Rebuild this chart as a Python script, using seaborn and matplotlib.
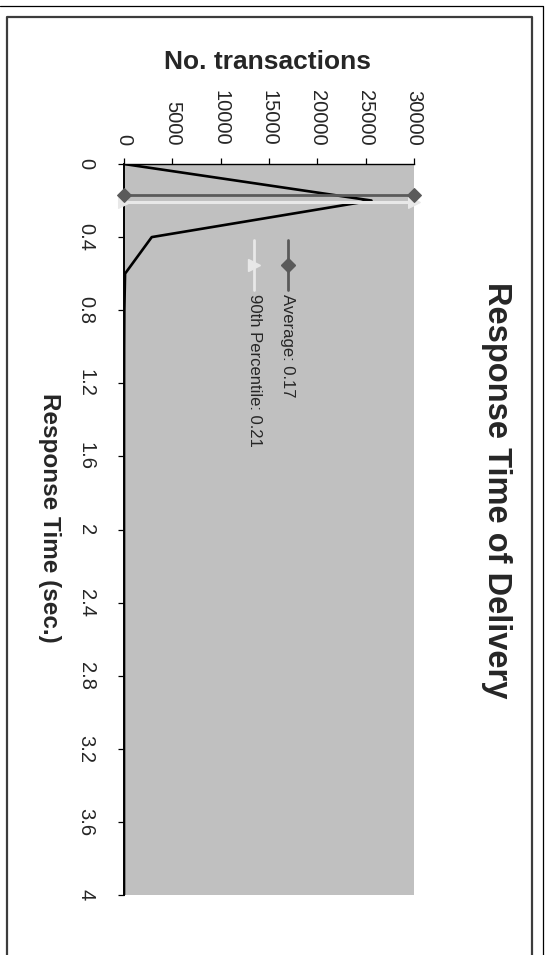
import matplotlib
matplotlib.use("Agg")
import matplotlib.pyplot as plt
import seaborn as sns
import pandas as pd
from matplotlib.lines import Line2D

sns.set_style("white")
plt.rcParams["font.family"] = ["Liberation Sans", "DejaVu Sans"]

# Response time buckets (sec.) and number of transactions in each
response_times = [0.0, 0.2, 0.4, 0.6, 0.8, 1.0, 1.2, 1.4, 1.6, 1.8, 2.0,
                  2.2, 2.4, 2.6, 2.8, 3.0, 3.2, 3.4, 3.6, 3.8, 4.0]
transactions = [0, 25600, 2870, 110, 35, 15, 8, 5, 3, 2, 2,
                1, 1, 1, 0, 0, 0, 0, 0, 0, 0]

average_time = 0.17
percentile_90 = 0.21

count_ticks = [0, 5000, 10000, 15000, 20000, 25000, 30000]
count_tick_labels = ["0", "5000", "10000", "15000", "20000", "25000", "30000"]
time_ticks = [0, 0.4, 0.8, 1.2, 1.6, 2.0, 2.4, 2.8, 3.2, 3.6, 4.0]
time_tick_labels = ["0", "0.4", "0.8", "1.2", "1.6", "2", "2.4", "2.8", "3.2", "3.6", "4"]

AVG_COLOR = "#5a5a5a"
P90_COLOR = "#e8e8e8"

W, H = 550, 955


def fx(px):
    return px / W


def fy(py):
    return 1 - py / H


fig = plt.figure(figsize=(W / 100, H / 100), dpi=100)
fig.patch.set_facecolor("white")

# plot area (chart is laid out sideways: time runs downward, counts run right)
L, R, T, B = 124, 414, 164, 895
ax = fig.add_axes([fx(L), fy(B), fx(R) - fx(L), fy(T) - fy(B)])
ax.set_facecolor("#c0c0c0")

dist = pd.DataFrame({"time": response_times, "count": transactions})
sns.lineplot(data=dist, x="count", y="time", sort=False, estimator=None,
             color="black", linewidth=1.9, ax=ax, zorder=3)

ref = pd.DataFrame({
    "count": [count_ticks[0], count_ticks[-1]],
    "avg": [average_time, average_time],
    "p90": [percentile_90, percentile_90],
})
sns.lineplot(data=ref, x="count", y="p90", sort=False, estimator=None,
             color=P90_COLOR, linewidth=2.2, marker=">", markersize=8,
             markeredgecolor=P90_COLOR, clip_on=False, ax=ax, zorder=4)
sns.lineplot(data=ref, x="count", y="avg", sort=False, estimator=None,
             color=AVG_COLOR, linewidth=2.0, marker="D", markersize=7,
             markeredgecolor=AVG_COLOR, clip_on=False, ax=ax, zorder=5)

ax.set_xlim(count_ticks[0], count_ticks[-1])
ax.set_ylim(time_ticks[-1], time_ticks[0])

ax.xaxis.tick_top()
ax.set_xticks(count_ticks)
ax.set_xticklabels(count_tick_labels)
ax.set_yticks(time_ticks)
ax.set_yticklabels(time_tick_labels)

ax.tick_params(axis="x", which="both", top=True, bottom=False, direction="out",
               length=4.5, width=0.9, color="black", labelsize=14.5,
               labelrotation=-90, pad=9)
ax.tick_params(axis="y", which="both", left=True, direction="out",
               length=4.5, width=0.9, color="black", labelsize=14.5,
               labelrotation=-90, pad=16)
for lbl in ax.get_yticklabels():
    lbl.set_verticalalignment("center")

for side in ("right", "bottom"):
    ax.spines[side].set_visible(False)
ax.spines["top"].set_color("black")
ax.spines["top"].set_linewidth(1.0)
ax.spines["left"].set_color("black")
ax.spines["left"].set_linewidth(1.4)

ax.set_xlabel("")
ax.set_ylabel("")

# axis titles and chart title
fig.text(fx(268), fy(62), "No. transactions", ha="center", va="center",
         fontsize=19, fontweight="bold")
fig.text(fx(49), fy(518), "Response Time (sec.)", ha="center", va="center",
         rotation=-90, fontsize=17.5, fontweight="bold")
fig.text(fx(496), fy(490), "Response Time of Delivery", ha="center", va="center",
         rotation=-90, fontsize=23.5, fontweight="bold")

# legend entries
legend_items = [
    (288, AVG_COLOR, "D", 7, f"Average: {average_time:.2f}"),
    (254, P90_COLOR, ">", 8, f"90th Percentile: {percentile_90:.2f}"),
]
for xpix, col, mk, ms, label in legend_items:
    fig.add_artist(Line2D([fx(xpix), fx(xpix)], [fy(240), fy(290)],
                          transform=fig.transFigure, color=col, linewidth=2.0))
    fig.add_artist(Line2D([fx(xpix)], [fy(265)], transform=fig.transFigure,
                          marker=mk, markersize=ms,
                          color=col, markeredgecolor=col, linestyle="none"))
    fig.text(fx(xpix), fy(294), label, rotation=-90, rotation_mode="anchor",
             ha="left", va="center", fontsize=12)

# chart frames
fig.add_artist(Line2D([0, fx(543), fx(543)], [fy(6), fy(6), -0.05],
                      transform=fig.transFigure, color="black", linewidth=0.9))
fig.add_artist(Line2D([fx(7), fx(7), fx(532), fx(532)],
                      [-0.05, fy(17), fy(17), -0.05],
                      transform=fig.transFigure, color="#3c3c3c", linewidth=1.6))

fig.savefig("out.png", dpi=100)
